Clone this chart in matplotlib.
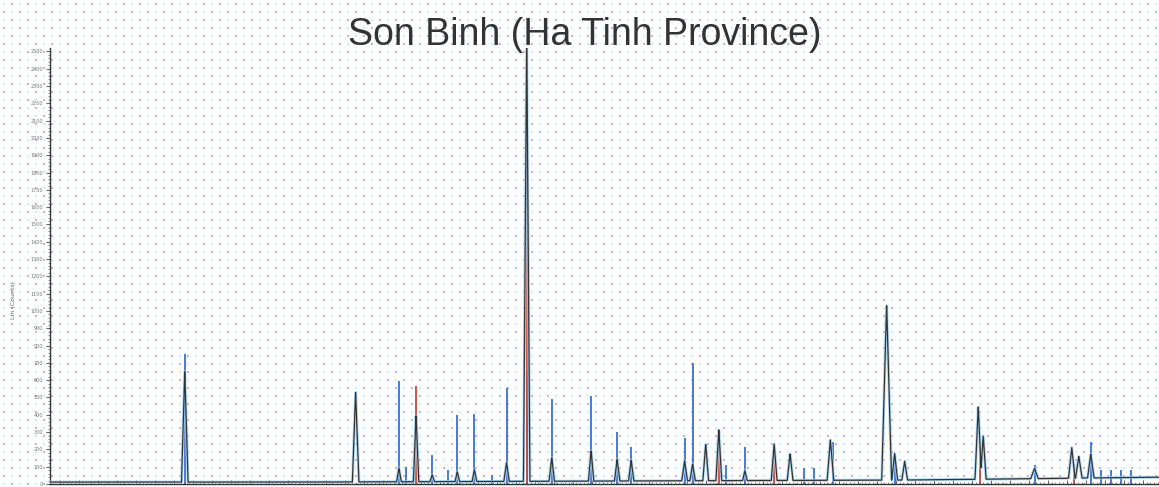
# coding: utf-8
import numpy as np
import matplotlib
matplotlib.use("Agg")
import matplotlib.pyplot as plt

# measured pattern: peak position (2theta), height (counts), half width (deg)
peakPos = [8.59, 17.58, 19.86, 20.76, 21.61, 22.93, 23.83, 25.52, 26.58, 27.90,
           29.97, 31.34, 32.08, 34.89, 35.31, 36.00, 36.69, 38.06, 39.60, 40.44,
           42.56, 45.52, 45.94, 46.47, 50.34, 50.60, 53.30, 55.26, 55.63, 56.26, 60.07]
peakHeight = [642, 522, 80, 390, 40, 57, 69, 109, 2600, 138,
              178, 126, 120, 115, 97, 212, 298, 57, 212, 155,
              235, 1020, 155, 109, 424, 252, 60, 178, 126, 138, 70]
peakHalfWidth = [0.17, 0.17, 0.12, 0.14, 0.12, 0.12, 0.12, 0.14, 0.17, 0.14,
                 0.14, 0.14, 0.14, 0.15, 0.14, 0.15, 0.15, 0.12, 0.15, 0.15,
                 0.17, 0.26, 0.15, 0.15, 0.17, 0.15, 0.2, 0.17, 0.17, 0.17, 0.2]

# background level of the scan
bgPos = [1.5, 14.7, 30.6, 46.5, 51.8, 60.2]
bgCounts = [11, 11, 17, 23, 29, 40]

# reference sticks
bluePos = [8.59, 19.86, 20.23, 21.61, 22.45, 22.93, 23.83, 24.73, 25.52, 26.58,
           27.90, 29.97, 31.34, 32.08, 34.89, 35.31, 37.06, 38.06, 41.19, 41.72,
           42.72, 45.94, 53.30, 56.26, 56.79, 57.32, 57.85, 58.38]
blueCounts = [751, 596, 97, 166, 80, 401, 407, 52, 556, 654,
              493, 510, 298, 212, 264, 700, 109, 212, 92, 92,
              241, 166, 109, 241, 80, 80, 80, 80]
redPos = [20.76, 26.58, 36.69, 39.60, 50.44, 55.37]
redCounts = [568, 2600, 298, 212, 224, 115]

yTicks = list(range(0, 2600, 100))


def drawDots(fig):
    bg = fig.add_axes([0, 0, 1, 1], zorder=-1)
    bg.set_xlim(0, 1159)
    bg.set_ylim(487, 0)
    bg.axis("off")
    xs = np.arange(4, 1159, 8)
    ys = np.arange(4, 487, 8)
    gx, gy = np.meshgrid(xs, ys)
    odd = ((gx // 8 + gy // 8) % 2).astype(bool)
    bg.scatter(gx[odd], gy[odd], s=2.2, marker="s", color="#b4b4ff", linewidths=0)
    bg.scatter(gx[~odd], gy[~odd], s=2.2, marker="s", color="#b4f6ff", linewidths=0)


def buildProfile(x):
    y = np.interp(x, bgPos, bgCounts)
    top = np.zeros_like(x)
    for p, h, w in zip(peakPos, peakHeight, peakHalfWidth):
        top = np.maximum(top, np.interp(x, [p - w, p, p + w], [0, h, 0], left=0, right=0))
    return y + top


def main():
    fig = plt.figure(figsize=(11.59, 4.87), dpi=100)
    drawDots(fig)

    ax = fig.add_axes([50 / 1159, 3 / 487, 1 - 50 / 1159, 436 / 487])
    ax.patch.set_alpha(0)

    x = np.linspace(1.5, 60.2, 8000)
    prof = buildProfile(x)

    ax.vlines(bluePos, 0, blueCounts, color="#3a6fd8", linewidth=1.3, zorder=2)
    ax.vlines(redPos, 0, redCounts, color="#c8483c", linewidth=1.3, zorder=2)
    ax.plot(x, prof, color="#a8d4ee", linewidth=2.2, alpha=0.8, zorder=3)
    ax.plot(x, prof, color="#333333", linewidth=0.9, zorder=4)

    ax.set_xlim(1.5, 59.85)
    ax.set_ylim(0, 2520)
    ax.set_yticks(yTicks)
    ax.set_yticklabels([str(v) for v in yTicks], fontsize=3.5, color="#777777")
    ax.set_yticks(range(0, 2520, 20), minor=True)
    ax.set_xticks(np.arange(2, 60, 1))
    ax.set_xticks(np.arange(2, 60, 0.2), minor=True)
    ax.set_xticklabels([])
    ax.tick_params(axis="y", which="major", length=3, width=0.6, color="#444444", pad=2)
    ax.tick_params(axis="y", which="minor", length=1.5, width=0.4, color="#444444")
    ax.tick_params(axis="x", which="major", length=3, width=0.6, color="#444444", direction="in")
    ax.tick_params(axis="x", which="minor", length=1.5, width=0.4, color="#444444", direction="in")
    for s in ["top", "right"]:
        ax.spines[s].set_visible(False)
    ax.spines["left"].set_color("#333333")
    ax.spines["bottom"].set_color("#333333")
    ax.spines["left"].set_linewidth(1.0)
    ax.spines["bottom"].set_linewidth(1.0)

    fig.text(14 / 1159, 1 - 300 / 487, "Lin (Counts)", rotation=90, fontsize=4.5,
             color="#666666", ha="center", va="center")
    fig.text(585 / 1159, 1 - 35 / 487, "Son Binh (Ha Tinh Province)",
             fontsize=27, color="#333333", family="Liberation Sans",
             ha="center", va="center")

    fig.savefig("out.png", dpi=100)


if __name__ == '__main__':
    main()
